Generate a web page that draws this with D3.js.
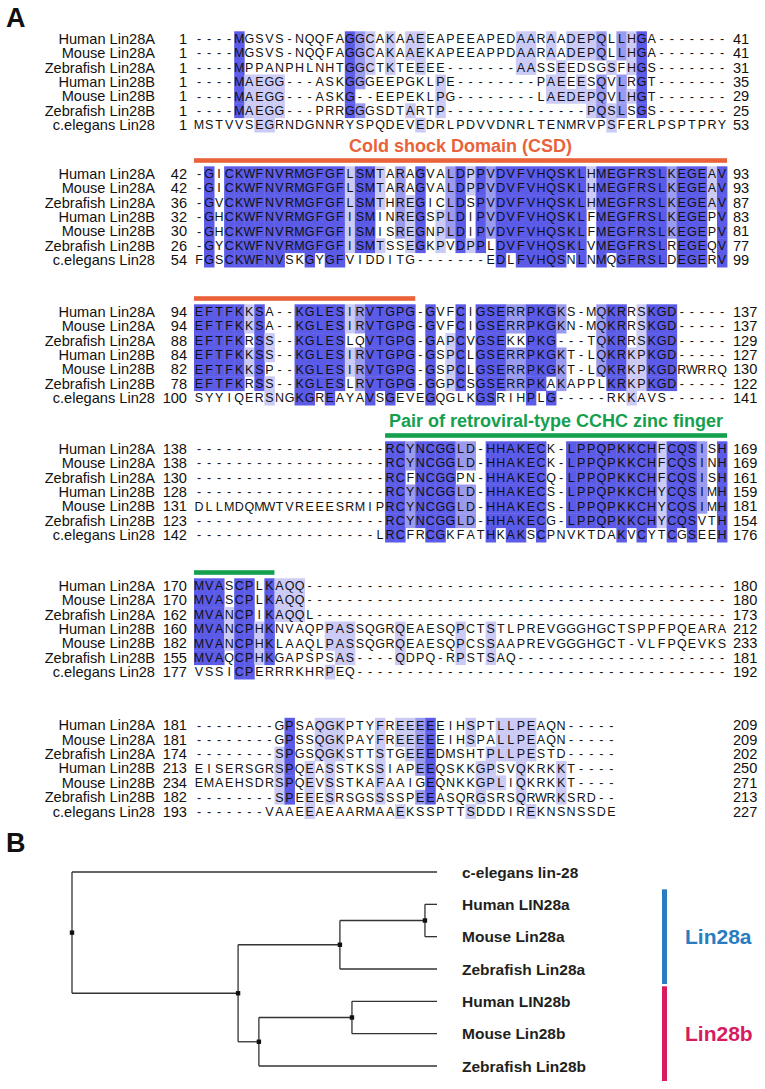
<!DOCTYPE html>
<html><head><meta charset="utf-8">
<script src="https://cdn.jsdelivr.net/npm/d3@7"></script>
<style>body{margin:0;background:#fff}</style>
</head><body>
<svg id="c" width="765" height="1089"></svg>
<script>
// ---------------- DATA ----------------
const seqNames = ["Human Lin28A","Mouse Lin28A","Zebrafish Lin28A","Human Lin28B","Mouse Lin28B","Zebrafish Lin28B","c.elegans Lin28"];

const block1 = [
"----MGSVS-NQQFAGGCAKAAEEAPEEAPEDAARAADEPQLLHGA-------",
"----MGSVS-NQQFAGGCAKAAEKAPEEAPPDAARAADEPQLLHGA-------",
"----MPPANPHLNHTGGCTKTEEEE-------AASSEEDSGSFHGS-------",
"----MAEGG---ASKGGGEEPGKLPE--------PAEEESQVLRGT-------",
"----MAEGG---ASKG--EEPEKLPG--------LAEDEPQVLHGT-------",
"----MAEGG---PRRGGGSDTARTP--------------PQSLSGS-------",
"MSTVVSEGRNDGNNRYSPQDEVEDRLPDVVDNRLTENMRVPSFERLPSPTPRY"];
const block2 = [
"-GICKWFNVRMGFGFLSMTARAGVALDPPVDVFVHQSKLHMEGFRSLKEGEAV",
"-GICKWFNVRMGFGFLSMTARAGVALDPPVDVFVHQSKLHMEGFRSLKEGEAV",
"-GVCKWFNVRMGFGFLSMTHREGICLDSPVDVFVHQSKLHMEGFRSLKEGEAV",
"-GHCKWFNVRMGFGFISMINREGSPLDIPVDVFVHQSKLFMEGFRSLKEGEPV",
"-GHCKWFNVRMGFGFISMISREGNPLDIPVDVFVHQSKLFMEGFRSLKEGEPV",
"-GYCKWFNVRMGFGFISMTSSEGKPVDPPLDVFVHQSKLVMEGFRSLREGEQV",
"FGSCKWFNVSKGYGFVIDDITG-------EDLFVHQSNLNMQGFRSLDEGERV"];
const block3 = [
"EFTFKKSA--KGLESIRVTGPG-GVFCIGSERRPKGKS-MQKRRSKGD-----",
"EFTFKKSA--KGLESIRVTGPG-GVFCIGSERRPKGKN-MQKRRSKGD-----",
"EFTFKRSS--KGLESLQVTGPG-GAPCVGSEKKPKG---TQKRRSKGD-----",
"EFTFKKSS--KGLESIRVTGPG-GSPCLGSERRPKGKT-LQKRKPKGD-----",
"EFTFKKSP--KGLESIRVTGPG-GSPCLGSERRPKGKT-LQKRKPKGDRWRRQ",
"EFTFKRSS--KGLESLRVTGPG-GGPCSGSERRPKAKAPPLKRKPKGD-----",
"SYYIQERSNGKGREAYAVSGEVEGQGLKGSRIHPLG-----RKKAVS------"];
const block4 = [
"-------------------RCYNCGGLD-HHAKECK-LPPQPKKCHFCQSISH",
"-------------------RCYNCGGLD-HHAKECK-LPPQPKKCHFCQSINH",
"-------------------RCFNCGGPN-HHAKECQ-LPPQPKKCHFCQSISH",
"-------------------RCYNCGGLD-HHAKECS-LPPQPKKCHYCQSIMH",
"DLLMDQMWTVREEESRMIPRCYNCGGLD-HHAKECS-LPPQPKKCHYCQSIMH",
"-------------------RCYNCGGLD-HHAKECG-LPPQPKKCHYCQSVTH",
"------------------LRCFRCGKFATHKAKSCPNVKTDAKVCYTCGSEEH"];
const block5 = [
"MVASCPLKAQQ------------------------------------------",
"MVASCPLKAQQ------------------------------------------",
"MVANCPIKAQQL-----------------------------------------",
"MVANCPHKNVAQPPASSQGRQEAESQPCTSTLPREVGGGHGCTSPPFPQEARA",
"MVANCPHKLAAQLPASSQGRQEAESQPCSSAAPREVGGGHGCT-VLFPQEVKS",
"MVAQCPHKGAPSPSAS----QDPQ-RPSTSAQ---------------------",
"VSSICPERRRKHRPEQ-------------------------------------"];
const block6 = [
"--------GPSAQGKPTYFREEEEEIHSPTLLPEAQN-----",
"--------GPSSQGKPAYFREEEEEIHSPALLPEAQN-----",
"--------SPGSQGKSTTSTGEEEDMSHTPLLPESTD-----",
"EISERSGRSPQEASSTKSSIAPEEQSKKGPSVQKRKKT----",
"EMAEHSDRSPQEVSSTKAFAAIGEQNKKGPLIQKRKKT----",
"--------SPEEESRSGSSSSPEEASQRGSRSQRWRKSRD--",
"-------VAAEEAEAARMAAEKSSPTTSDDDIREKNSNSSDE"];
const blocks = [block1, block2, block3, block4, block5, block6];

const startNums = [
 [1,1,1,1,1,1,1],
 [42,42,36,32,30,26,54],
 [94,94,88,84,82,78,100],
 [138,138,130,128,131,123,142],
 [170,170,162,160,182,155,177],
 [181,181,174,213,234,182,193]];
const endNums = [
 [41,41,31,35,29,25,53],
 [93,93,87,83,81,77,99],
 [137,137,129,127,130,122,141],
 [169,169,161,159,181,154,176],
 [180,180,173,212,233,181,192],
 [209,209,202,250,271,213,227]];

// domain annotations: name, colour, segments [block, firstCol, lastCol]
const domainNames = ["Cold shock Domain (CSD)", "Pair of retroviral-type CCHC zinc finger"];
const domainColors = ["#e9623a", "#15a04e"];
const domainSegments = [
 [[1,0,52],[2,0,21]],
 [[3,19,52],[4,0,7]]];

// phylogenetic tree (Newick, relative branch lengths)
const treeNewick = "(c-elegans lin-28:1.0,(((Human LIN28a:0.033,Mouse Lin28a:0.033):0.233,Zebrafish Lin28a:0.266):0.279,((Human LIN28b:0.233,Mouse Lin28b:0.233):0.255,Zebrafish Lin28b:0.488):0.057):0.455);";
const cladeNames = ["Lin28a","Lin28b"];
const cladeMembers = [["Human LIN28a","Mouse Lin28a","Zebrafish Lin28a"],["Human LIN28b","Mouse Lin28b","Zebrafish Lin28b"]];
const cladeColors = ["#2a7cc0","#d81b5f"];

// ---------------- DRAW ----------------
const FONT = "'Liberation Sans', Arial, Helvetica, sans-serif";
const svg = d3.select("#c").style("font-family", FONT);
svg.append("rect").attr("width",765).attr("height",1089).attr("fill","#fff");

const colX = d3.scaleLinear().domain([0, 52]).range([199, 722]);
const cw = colX(1) - colX(0);
const blockTop = [38.5, 173.5, 311.5, 448.5, 585.5, 725];
const rowH = 14.4;
const rowY = (b, r) => blockTop[b] + r * rowH;
const levelColor = [null, "#cbcbf6", "#9a9aef", "#5b5be8"];

function shade(rows){
  const n = rows.length, L = rows[0].length;
  const lv = rows.map(() => []);
  for (let c = 0; c < L; c++){
    const cnt = {};
    rows.forEach(s => { const ch = s[c]; if (ch !== '-') cnt[ch] = (cnt[ch] || 0) + 1; });
    const max = d3.max(Object.values(cnt)) || 0;
    const pct = max / n * 100;
    const level = pct > 80 ? 3 : pct > 60 ? 2 : pct > 40 ? 1 : 0;
    rows.forEach((s, r) => { lv[r][c] = (s[c] !== '-' && cnt[s[c]] === max) ? level : 0; });
  }
  return lv;
}

svg.append("text").attr("x", 6).attr("y", 27).text("A")
  .attr("font-size", 27).attr("font-weight", "bold").attr("fill", "#111");

blocks.forEach((rows, b) => {
  const lv = shade(rows);
  const g = svg.append("g");
  rows.forEach((s, r) => {
    const cells = s.split("").map((ch, c) => ({ch, c, l: lv[r][c]}));
    g.selectAll(null).data(cells.filter(d => d.l > 0)).enter().append("rect")
      .attr("x", d => colX(d.c) - cw / 2).attr("width", cw + 0.4)
      .attr("y", rowY(b, r) - rowH / 2).attr("height", rowH + 0.4)
      .attr("fill", d => levelColor[d.l]);
    g.selectAll(null).data(cells).enter().append("text")
      .attr("x", d => colX(d.c)).attr("y", rowY(b, r)).attr("dy", "0.36em")
      .attr("text-anchor", "middle").attr("font-size", 12.5).attr("fill", "#111")
      .text(d => d.ch);
  });
  g.selectAll(null).data(seqNames).enter().append("text")
    .attr("x", 155).attr("y", (d, r) => rowY(b, r)).attr("dy", "0.36em")
    .attr("text-anchor", "end").attr("font-size", 14.6).attr("fill", "#111").text(d => d);
  g.selectAll(null).data(startNums[b]).enter().append("text")
    .attr("x", 187).attr("y", (d, r) => rowY(b, r)).attr("dy", "0.36em")
    .attr("text-anchor", "end").attr("font-size", 14.6).attr("fill", "#111").text(d => d);
  g.selectAll(null).data(endNums[b]).enter().append("text")
    .attr("x", 733).attr("y", (d, r) => rowY(b, r)).attr("dy", "0.36em")
    .attr("text-anchor", "start").attr("font-size", 14.6).attr("fill", "#111").text(d => d);
});

// domains
domainSegments.forEach((segs, i) => {
  segs.forEach(([b, c0, c1], k) => {
    const yb = blockTop[b] - 13;
    const x0 = colX(c0) - cw / 2, x1 = colX(c1) + cw / 2;
    svg.append("rect").attr("x", x0).attr("width", x1 - x0)
      .attr("y", yb - 2.3).attr("height", 4.6).attr("fill", domainColors[i]);
    if (k === 0) {
      svg.append("text").attr("x", (x0 + x1) / 2).attr("y", yb - 15).attr("dy", "0.36em")
        .attr("text-anchor", "middle").attr("font-size", 18).attr("font-weight", "bold")
        .attr("fill", domainColors[i]).text(domainNames[i]);
    }
  });
});

// ---------------- TREE ----------------
function parseNewick(s){
  let i = 0;
  function node(){
    const n = {children: []};
    if (s[i] === '('){
      i++; n.children.push(node());
      while (s[i] === ','){ i++; n.children.push(node()); }
      i++;
    }
    let name = ''; while (i < s.length && !':,);'.includes(s[i])) name += s[i++];
    n.name = name.trim();
    if (s[i] === ':'){ i++; let num = ''; while (i < s.length && !',);'.includes(s[i])) num += s[i++]; n.length = +num; }
    else n.length = 0;
    if (!n.children.length) delete n.children;
    return n;
  }
  return node();
}
const root = d3.hierarchy(parseNewick(treeNewick));
root.eachBefore(d => { d.dist = (d.parent ? d.parent.dist : 0) + (d.parent ? d.data.length : 0); });
const tx = d3.scaleLinear().domain([0, d3.max(root.leaves(), d => d.dist)]).range([72, 437]);
const leafNames = root.leaves().map(d => d.data.name);
const ty = d3.scalePoint().domain(leafNames).range([872, 1066]);
root.eachAfter(d => {
  d.py = d.children ? (d.children[0].py + d.children[d.children.length - 1].py) / 2 : ty(d.data.name);
  d.px = tx(d.dist);
});

svg.append("text").attr("x", 6).attr("y", 852).text("B")
  .attr("font-size", 27).attr("font-weight", "bold").attr("fill", "#111");

const tg = svg.append("g").attr("stroke", "#333").attr("stroke-width", 1.3).attr("fill", "none");
root.descendants().filter(d => d.children).forEach(d => {
  tg.append("line").attr("x1", d.px).attr("x2", d.px)
    .attr("y1", d.children[0].py).attr("y2", d.children[d.children.length - 1].py);
  d.children.forEach(ch => {
    tg.append("line").attr("x1", d.px).attr("x2", ch.px).attr("y1", ch.py).attr("y2", ch.py);
  });
});
svg.selectAll(null).data(root.descendants().filter(d => d.children)).enter().append("rect")
  .attr("x", d => d.px - 2.2).attr("y", d => d.py - 2.2).attr("width", 4.4).attr("height", 4.4)
  .attr("fill", "#111");
svg.selectAll(null).data(root.leaves()).enter().append("text")
  .attr("x", 462).attr("y", d => d.py).attr("dy", "0.36em")
  .attr("font-size", 15.5).attr("font-weight", "bold").attr("fill", "#231f20")
  .text(d => d.data.name);

cladeNames.forEach((nm, i) => {
  const ys = cladeMembers[i].map(m => ty(m));
  const y0 = d3.min(ys) - 15, y1 = d3.max(ys) + 15;
  svg.append("rect").attr("x", 662).attr("y", y0).attr("width", 5).attr("height", y1 - y0)
    .attr("fill", cladeColors[i]);
  svg.append("text").attr("x", 685).attr("y", (y0 + y1) / 2).attr("dy", "0.36em")
    .attr("font-size", 21).attr("font-weight", "bold").attr("fill", cladeColors[i]).text(nm);
});
</script>
</body></html>
